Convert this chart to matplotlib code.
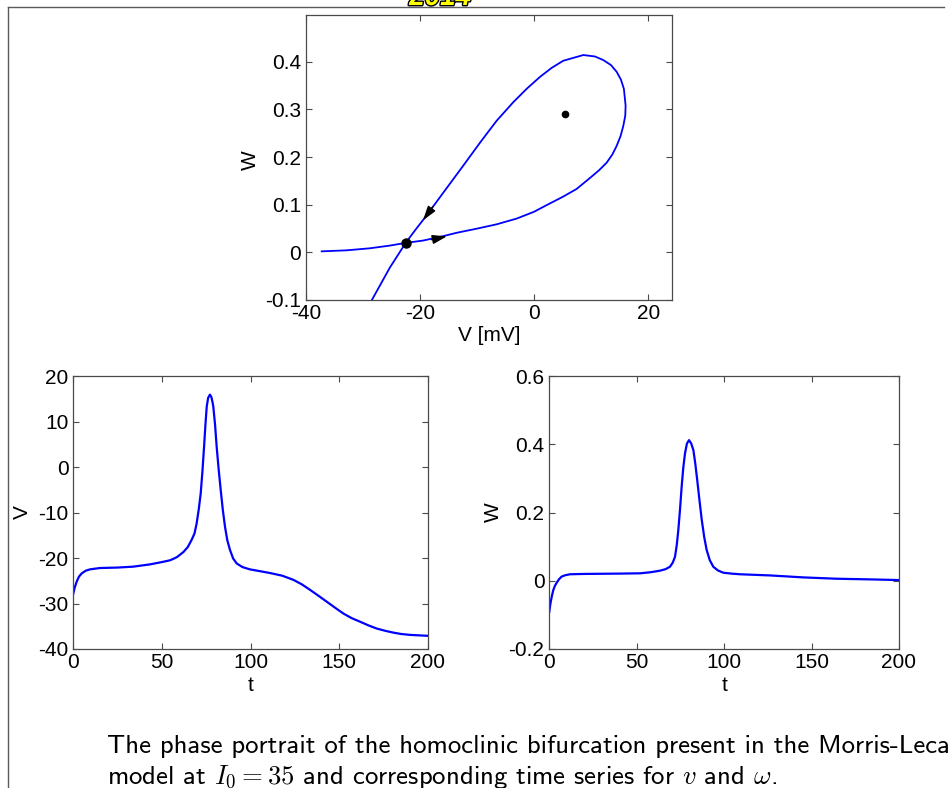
import os
import matplotlib
matplotlib.use("Agg")
import matplotlib.pyplot as plt
import matplotlib.patheffects as pe
from matplotlib import font_manager
from matplotlib.lines import Line2D

# ---------------- data ----------------
# phase portrait (V [mV], W): homoclinic loop starting and ending at the saddle
loop_V = [-22.53, -19.44, -16.2, -13.6, -10.09, -6.59, -3.08, -0.05, 2.17, 5.09, 7.43,
          9.77, 11.34, 12.69, 13.68, 14.44, 15.14, 15.61, 15.96, 16.02, 15.72, 15.20,
          14.44, 13.45, 12.10, 10.64, 8.60, 5.09, 3.05, 1.0, -1.33, -3.67, -6.59,
          -9.51, -12.43, -15.64, -19.15, -20.9, -22.53]
loop_W = [0.0198, 0.0248, 0.0333, 0.041, 0.0496, 0.0588, 0.0708, 0.085, 0.099, 0.117, 0.133,
          0.156, 0.172, 0.188, 0.205, 0.223, 0.244, 0.265, 0.2867, 0.308, 0.343, 0.3625,
          0.379, 0.393, 0.4035, 0.411, 0.414, 0.402, 0.387, 0.368, 0.343, 0.315, 0.276,
          0.230, 0.182, 0.130, 0.0729, 0.046, 0.0198]
# unstable branch leaving the saddle to the left
left_V = [-22.53, -25.3, -28.8, -32.9, -37.25]
left_W = [0.0198, 0.0142, 0.0085, 0.0042, 0.0021]
# stable branch below the saddle
stable_V = [-22.53, -25.3, -28.5]
stable_W = [0.0198, -0.032, -0.101]
saddle = (-22.53, 0.0198)
focus = (5.35, 0.291)

# time series V(t)
t_V = [0, 0.8, 1.9, 3.2, 4.7, 7, 9.4, 15, 25, 33.9, 43.3, 49.9, 54.6, 56.4, 58.5, 62.1,
       64.6, 66.8, 68.4, 69.6, 70.8, 71.9, 72.9, 73.8, 74.6, 75.3, 76.1, 77.1, 77.9,
       78.6, 79.0, 80.0, 80.9, 82.0, 83.2, 84.4, 85.6, 86.9, 88.4, 90.2, 92.2, 95.5,
       99.7, 105.4, 111, 118, 124.2, 129, 133.6, 138, 143, 148, 152.4, 157, 161.8,
       166.5, 171.2, 176, 180.6, 185, 190, 195, 200]
V = [-27.8, -26.5, -25.2, -24.1, -23.4, -22.8, -22.5, -22.2, -22.1, -21.9, -21.4, -20.9,
     -20.5, -20.2, -19.8, -18.7, -17.6, -16.0, -14.6, -12.4, -9.3, -5.8, -0.8, 4.5, 9.5,
     13.3, 15.2, 15.9, 15.4, 14.2, 13.3, 9.3, 4.5, -0.4, -5.1, -9.5, -13.1, -16.1, -18.2,
     -20.1, -21.2, -22.0, -22.5, -22.9, -23.3, -23.9, -24.8, -25.8, -27.0, -28.2, -29.6,
     -31.0, -32.2, -33.2, -34.0, -34.8, -35.5, -36.0, -36.4, -36.7, -36.9, -37.0, -37.1]

# time series W(t)
t_W = [0, 0.5, 1, 1.6, 2.3, 3.2, 4.2, 5.5, 7, 9, 11.8, 20, 30.9, 41, 51.9, 58, 63.3, 66.5,
       69.0, 70.6, 71.9, 72.9, 73.8, 74.8, 75.7, 76.6, 77.6, 78.7, 79.9, 81.1, 82.4,
       83.5, 84.6, 85.9, 87.2, 88.6, 90.0, 91.8, 93.8, 96.5, 99.5, 104, 109, 126.2,
       145.3, 164.3, 183.4, 200]
W = [-0.091, -0.072, -0.057, -0.042, -0.027, -0.015, -0.006, 0.004, 0.012, 0.016, 0.019,
     0.020, 0.0205, 0.021, 0.0218, 0.025, 0.0295, 0.034, 0.041, 0.053, 0.0705, 0.105,
     0.149, 0.212, 0.276, 0.33, 0.373, 0.402, 0.412, 0.403, 0.383, 0.343, 0.295, 0.235,
     0.178, 0.128, 0.090, 0.060, 0.041, 0.030, 0.0236, 0.021, 0.019, 0.0156, 0.0098,
     0.0059, 0.004, 0.002]

# ---------------- style ----------------
plt.rcParams['font.family'] = ['Liberation Sans', 'DejaVu Sans']
plt.rcParams['mathtext.fontset'] = 'cm'
BLUE = '#0000ff'
SPINE = '#4a4a4a'
TICK_FS = 15

cmss_path = os.path.join(matplotlib.get_data_path(), 'fonts', 'ttf', 'cmss10.ttf')
font_manager.fontManager.addfont(cmss_path)
cap_font = font_manager.FontProperties(fname=cmss_path, size=19.3)

W_PX, H_PX = 949, 788
fig = plt.figure(figsize=(W_PX / 100, H_PX / 100), dpi=100)


def px_axes(l, t, r, b):
    return fig.add_axes([l / W_PX, 1 - b / H_PX, (r - l) / W_PX, (b - t) / H_PX])


def style(ax):
    for s in ax.spines.values():
        s.set_color(SPINE)
        s.set_linewidth(0.9)
    ax.tick_params(direction='in', length=4.5, width=0.8, color=SPINE,
                   top=True, right=True, labelsize=TICK_FS, labelcolor='black')
    ax.tick_params(axis='y', pad=3.5)
    ax.tick_params(axis='x', pad=3)


# ---- phase portrait ----
ax1 = px_axes(306, 15, 671.7, 300)
ax1.plot(loop_V, loop_W, color=BLUE, lw=1.3)
ax1.plot(left_V, left_W, color=BLUE, lw=1.3)
ax1.plot(stable_V, stable_W, color=BLUE, lw=1.3)
ax1.plot(*saddle, 'o', color='black', ms=6.5)
ax1.plot(*focus, 'o', color='black', ms=4.5)
arrow_kw = dict(arrowstyle='-|>,head_length=0.8,head_width=0.25', color='black',
                lw=1.0, shrinkA=0, shrinkB=0, mutation_scale=11)
ax1.annotate('', xy=(-19.5, 0.067), xytext=(-17.8, 0.095), arrowprops=arrow_kw)
ax1.annotate('', xy=(-15.3, 0.0336), xytext=(-18.0, 0.0265), arrowprops=arrow_kw)
ax1.set_xlim(-40, 24.1)
ax1.set_ylim(-0.1, 0.498)
ax1.set_xticks([-40, -20, 0, 20])
ax1.set_yticks([-0.1, 0, 0.1, 0.2, 0.3, 0.4])
ax1.set_yticklabels(['-0.1', '0', '0.1', '0.2', '0.3', '0.4'])
ax1.set_xticklabels(['-40', '-20', '0', '20'])
style(ax1)
ax1.set_xlabel('V [mV]', fontsize=TICK_FS)
ax1.set_ylabel('W', fontsize=TICK_FS)
ax1.xaxis.set_label_coords(0.5, -0.09)
ax1.yaxis.set_label_coords(-0.126, 0.49)

# ---- V(t) ----
ax2 = px_axes(73.3, 376, 427.7, 649)
ax2.plot(t_V, V, color=BLUE, lw=1.6)
ax2.set_xlim(0, 200)
ax2.set_ylim(-40, 20)
ax2.set_xticks([0, 50, 100, 150, 200])
ax2.set_yticks([-40, -30, -20, -10, 0, 10, 20])
ax2.set_yticklabels(['-40', '-30', '-20', '-10', '0', '10', '20'])
style(ax2)
ax2.set_xlabel('t', fontsize=TICK_FS)
ax2.set_ylabel('V', fontsize=TICK_FS)
ax2.xaxis.set_label_coords(0.5, -0.1)
ax2.yaxis.set_label_coords(-0.117, 0.5)

# ---- W(t) ----
ax3 = px_axes(549.3, 376, 899, 649)
ax3.plot(t_W, W, color=BLUE, lw=1.6)
ax3.set_xlim(0, 200)
ax3.set_ylim(-0.2, 0.6)
ax3.set_xticks([0, 50, 100, 150, 200])
ax3.set_yticks([-0.2, 0, 0.2, 0.4, 0.6])
ax3.set_yticklabels(['-0.2', '0', '0.2', '0.4', '0.6'])
style(ax3)
ax3.set_xlabel('t', fontsize=TICK_FS)
ax3.set_ylabel('W', fontsize=TICK_FS)
ax3.xaxis.set_label_coords(0.5, -0.1)
ax3.yaxis.set_label_coords(-0.132, 0.5)

# ---- slide frame and caption ----
frame_kw = dict(color='#5a5a5a', lw=1.0, transform=fig.transFigure)
fig.add_artist(Line2D([8 / W_PX, 8 / W_PX], [1 - 7 / H_PX, 0], **frame_kw))
fig.add_artist(Line2D([8 / W_PX, 944 / W_PX], [1 - 7 / H_PX, 1 - 7 / H_PX], **frame_kw))

fig.text(440 / W_PX, 1 - 11 / H_PX, '2014', fontsize=20, color='#ffff00',
         fontweight='bold', style='italic', ha='center', va='bottom',
         path_effects=[pe.withStroke(linewidth=2, foreground='black')])

fig.text(107 / W_PX, 1 - 753 / H_PX,
         'The phase portrait of the homoclinic bifurcation present in the Morris-Lecar',
         fontproperties=cap_font, ha='left', va='baseline')
fig.text(107 / W_PX, 1 - 784 / H_PX,
         r'model at $I_0 = 35$ and corresponding time series for $v$ and $\omega$.',
         fontproperties=cap_font, ha='left', va='baseline')

fig.savefig('out.png', dpi=100)
